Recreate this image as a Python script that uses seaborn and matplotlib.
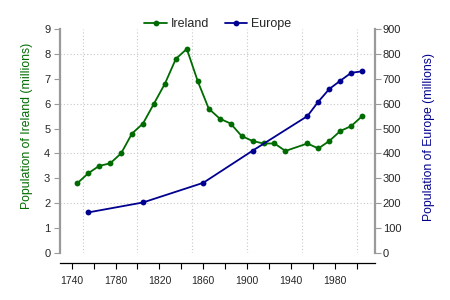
import matplotlib
matplotlib.use("Agg")
import matplotlib.pyplot as plt
import matplotlib.transforms as mtransforms
from matplotlib.ticker import MultipleLocator, FixedLocator
import seaborn as sns
import pandas as pd

ireland_years = [1745, 1755, 1765, 1775, 1785, 1795, 1805, 1815, 1825, 1835, 1845, 1855, 1865,
                 1875, 1885, 1895, 1905, 1915, 1925, 1935, 1955, 1965, 1975, 1985, 1995, 2005]
ireland_pop = [2.8, 3.2, 3.5, 3.6, 4.0, 4.8, 5.2, 6.0, 6.8, 7.8, 8.2, 6.9, 5.8,
               5.4, 5.2, 4.7, 4.5, 4.4, 4.4, 4.1, 4.4, 4.2, 4.5, 4.9, 5.1, 5.5]
europe_years = [1755, 1805, 1860, 1905, 1955, 1965, 1975, 1985, 1995, 2005]
europe_pop = [163, 203, 282, 411, 550, 608, 659, 692, 724, 730]

x_ticks = list(range(1740, 2001, 20))
x_tick_labels = [str(y) if (y - 1740) % 40 == 0 else "" for y in x_ticks]

IRL = "#006b00"
EUR = "#000090"
GRAY = "#9a9a9a"

sns.set_theme(style="white")
plt.rcParams["font.family"] = ["Liberation Sans", "DejaVu Sans"]

fig = plt.figure(figsize=(4.5, 3.0), dpi=100)
ax = fig.add_axes([60 / 450, 1 - 253 / 300, 315 / 450, 224 / 300])
ax2 = ax.twinx()

df_i = pd.DataFrame({"year": ireland_years, "pop": ireland_pop})
df_e = pd.DataFrame({"year": europe_years, "pop": europe_pop})

sns.lineplot(data=df_i, x="year", y="pop", ax=ax, color=IRL, marker="o",
             markersize=4.2, markeredgewidth=0, linewidth=1.3, label="Ireland", legend=False)
sns.lineplot(data=df_e, x="year", y="pop", ax=ax2, color=EUR, marker="o",
             markersize=4.2, markeredgewidth=0, linewidth=1.3, label="Europe", legend=False)

ax.set_xlim(1729.3, 2016.7)
ax.set_ylim(0, 9)
ax2.set_ylim(0, 900)

# ticks
ax.set_xticks(x_ticks)
ax.set_xticklabels(x_tick_labels)
ax.xaxis.set_minor_locator(FixedLocator(list(range(1750, 2001, 50))))
ax.yaxis.set_major_locator(MultipleLocator(1))
ax.yaxis.set_minor_locator(MultipleLocator(2))
ax.xaxis.remove_overlapping_locs = False
ax.yaxis.remove_overlapping_locs = False
ax2.yaxis.set_major_locator(MultipleLocator(100))

ax.grid(False)
ax2.grid(False)
ax.grid(which="minor", axis="both", linestyle=(0, (1, 2)), color="#c8c8c8", linewidth=0.8)
ax.set_axisbelow(True)

ax.tick_params(axis="x", which="major", direction="out", length=4.5, width=0.8, color="black",
               bottom=True, pad=5, labelsize=7.5)
ax.tick_params(axis="x", which="minor", length=0)
ax.tick_params(axis="y", which="major", direction="out", length=4, width=0.8, color=GRAY,
               left=True, pad=3, labelsize=8)
ax.tick_params(axis="y", which="minor", length=0)
ax2.tick_params(axis="y", which="major", direction="out", length=4, width=0.8, color=GRAY,
                right=True, pad=1.5, labelsize=8)

for lab in ax.get_xticklabels():
    lab.set_fontfamily(["Liberation Sans Narrow", "Liberation Sans", "DejaVu Sans"])
    lab.set_transform(lab.get_transform() + mtransforms.ScaledTranslation(0.03, 0, fig.dpi_scale_trans))

# spines
for s in ["top", "right"]:
    ax.spines[s].set_visible(False)
for s in ["top", "left", "bottom"]:
    ax2.spines[s].set_visible(False)
ax.spines["left"].set_color(GRAY)
ax.spines["left"].set_linewidth(1.6)
ax2.spines["right"].set_color(GRAY)
ax2.spines["right"].set_linewidth(1.6)
ax.spines["bottom"].set_color("black")
ax.spines["bottom"].set_linewidth(0.9)
ax.spines["bottom"].set_position(("outward", 7.2))

ax.set_xlabel("")
ax.set_ylabel("Population of Ireland (millions)", color=IRL, fontsize=8.8)
ax.yaxis.set_label_coords(-0.105, 0.569)
ax.yaxis.label.set_va("center")
ax2.set_ylabel("Population of Europe (millions)", color=EUR, fontsize=8.8, rotation=90)
ax2.yaxis.set_label_coords(1.171, 0.52)
ax2.yaxis.label.set_va("center")

handles = ax.get_lines()[:1] + ax2.get_lines()[:1]
fig.legend(handles, ["Ireland", "Europe"], loc="center", bbox_to_anchor=(218 / 450, 1 - 24 / 300),
           ncol=2, frameon=False, fontsize=9, handlelength=1.8, handletextpad=0.35,
           columnspacing=1.2, borderaxespad=0)

fig.savefig("out.png", dpi=100)
